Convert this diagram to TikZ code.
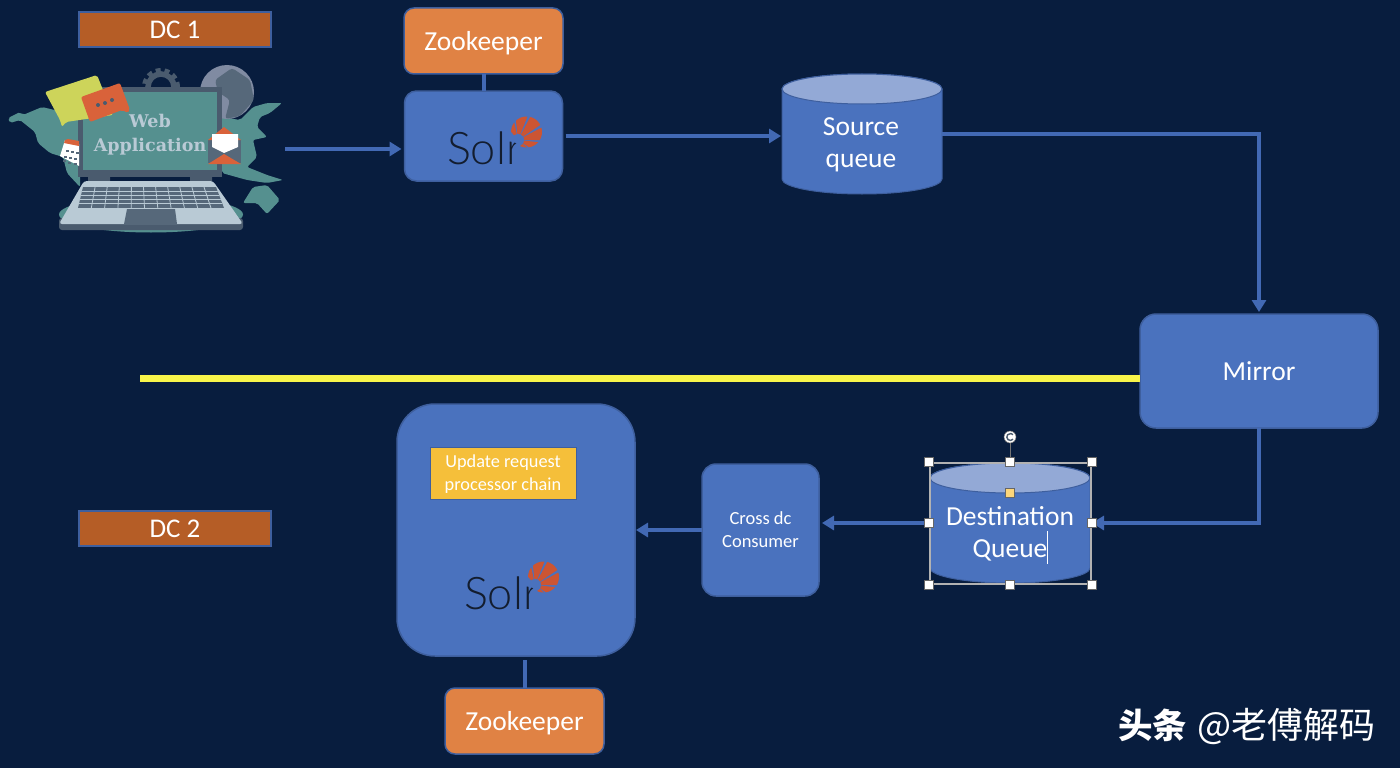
\documentclass[tikz,border=0pt]{standalone}
\usepackage{fontspec}
\setmainfont{Carlito}
\newfontfamily\cjkfont{Noto Sans CJK SC}
\newfontfamily\solrfont{Lato Light}
\newfontfamily\webfont{DejaVu Serif}
\usepackage{tikz}
\usetikzlibrary{positioning,arrows.meta}
\definecolor{pagebg}{HTML}{081D3E}
\definecolor{boxblue}{HTML}{4A72BE}
\definecolor{boxedge}{HTML}{3E5F9E}
\definecolor{capblue}{HTML}{93A9D6}
\definecolor{linkblue}{HTML}{4269B4}
\definecolor{dcbrown}{HTML}{B55D26}
\definecolor{zkorange}{HTML}{E08244}
\definecolor{chainyellow}{HTML}{F5BF3A}
\definecolor{mapteal}{HTML}{55908F}
\definecolor{slate}{HTML}{4A5B6E}
\definecolor{padgrey}{HTML}{56687A}
\definecolor{baselight}{HTML}{B9CAD5}
\definecolor{sunred}{HTML}{CC5533}
\definecolor{bubblered}{HTML}{D9623A}
\definecolor{bubbleyellow}{HTML}{CDD45A}
\definecolor{midline}{HTML}{F8F54A}
\newcommand{\fsize}[1]{\fontsize{#1pt}{\dimexpr#1pt*5/4\relax}\selectfont}
% fan of the logo, #1 is the shift from the upper logo
\newcommand{\solrsun}[1]{
\begin{scope}[shift={#1}]
\clip (526.5,132) circle[radius=15.5pt];
\foreach \fana in {-130,-96,-62,-28,6,40}
  \fill[sunred] (518,140) -- +(\fana:32) -- +({\fana+28}:32) -- cycle;
\fill[boxblue] (518,140) circle[radius=6pt];
\end{scope}
}
% barrel drawn inside the frame of node #1
\newcommand{\queueshape}[1]{
\draw[fill=boxblue, draw=boxedge, line width=1pt] ([yshift=-15pt]#1.north west) -- ([yshift=15pt]#1.south west) arc[start angle=180, end angle=360, x radius=80pt, y radius=15pt] -- ([yshift=-15pt]#1.north east) arc[start angle=0, end angle=180, x radius=80pt, y radius=15pt] -- cycle;
\draw[fill=capblue, draw=boxedge, line width=1pt] ([yshift=-15pt]#1.north) ellipse[x radius=80pt, y radius=15pt];
}
\begin{document}
\begin{tikzpicture}[x=1pt,y=-1pt,
    roundbox/.style={rectangle, rounded corners=#1, draw=boxedge, line width=1.5pt, fill=boxblue, text=white, align=center, outer sep=0pt},
    zkbox/.style={roundbox=10pt, fill=zkorange, minimum width=159pt, minimum height=66pt, font=\fsize{27.5}, text depth=0pt},
    dcbox/.style={rectangle, draw=boxedge, line width=1.5pt, fill=dcbrown, text=white, minimum width=192pt, minimum height=35pt, font=\fsize{27}, outer sep=0pt},
    queue/.style={rectangle, minimum width=160pt, minimum height=120pt, outer sep=0pt, inner sep=0pt},
    queuetext/.style={text=white, align=center, font=\fsize{27.5}, inner sep=0pt},
    solrword/.style={text=black!75!boxblue, font=\solrfont\fsize{45}, inner sep=0pt},
    link/.style={draw=linkblue, line width=4pt},
    arrow/.style={link, -{Triangle[length=12pt,width=14pt]}},
    handle/.style={rectangle, draw=black!60, fill=white, line width=.5pt, minimum size=9pt, inner sep=0pt}
]
\fill[pagebg] (0,0) rectangle (1400,768);
\useasboundingbox (0,0) rectangle (1400,768);

% web application picture
\fill[mapteal, rounded corners=2pt] (8,118) -- (20,112) -- (23,115) -- (42,107) -- (63,112) -- (80,115) -- (80,187) -- (67,173) -- (63,157) -- (50,153) -- (38,143) -- (35,132) -- (20,120) -- (10,123) -- cycle;
\fill[mapteal, rounded corners=2pt] (222,117) -- (240,120) -- (253,107) -- (267,103) -- (282,103) -- (270,113) -- (260,117) -- (257,127) -- (267,137) -- (253,140) -- (257,157) -- (247,167) -- (267,175) -- (283,180) -- (267,183) -- (247,180) -- (222,173) -- cycle;
\fill[mapteal, rounded corners=2pt] (243,203) -- (253,187) -- (267,185) -- (280,200) -- (267,214) -- (257,203) -- cycle;
\fill[mapteal] (151,214.5) ellipse[x radius=92pt, y radius=18pt];
\draw[slate, line width=4pt, dash pattern=on 5pt off 4pt] (161,87) circle[radius=17pt];
\draw[slate, line width=5.5pt] (161,87) circle[radius=13pt];
\fill[black!35!capblue!80!white] (227,92) circle[radius=27pt];
\fill[padgrey, rounded corners=3pt] (215,80) -- (232,68) -- (250,80) -- (254,100) -- (240,116) -- (225,119) -- (230,100) -- (218,92) -- cycle;
\fill[slate] (78,87) rectangle (222,177);
\fill[mapteal] (83,92) rectangle (217,170);
\fill[slate] (88,177) rectangle (110,182) (190,177) rectangle (212,182);
\fill[slate, rounded corners=3pt] (59,218) rectangle (243,230);
\fill[baselight, rounded corners=3pt] (84,181) -- (213,181) -- (243,224) -- (59,224) -- cycle;
\begin{scope}
\clip (83,187) -- (216,187) -- (224,208) -- (78,208) -- cycle;
\fill[padgrey] (70,187) rectangle (230,208);
\foreach \rowy in {191,195,199,203}
  \draw[baselight, line width=.8pt] (76,\rowy) -- (226,\rowy);
\foreach \keyi in {1,...,10}
  \draw[baselight, line width=.8pt] ({83+\keyi*12.1},187) -- ({78+\keyi*13.3},208);
\end{scope}
\fill[padgrey] (127,209) -- (175,209) -- (177,224) -- (124,224) -- cycle;
\fill[bubbleyellow, rounded corners=2pt] (45,92) -- (97,75) -- (113,115) -- (66,122) -- (62,127) -- (60,120) -- cycle;
\fill[bubblered, rounded corners=2pt] (81,97) -- (120,83) -- (130,110) -- (128,113) -- (122,110) -- (90,122) -- cycle;
\foreach \dotx/\doty in {98/105,105/103,112/100}
  \fill[slate] (\dotx,\doty) circle[radius=2pt];
\fill[white] (60,156) -- (65,140) -- (79,144) -- (79,166) -- cycle;
\fill[bubblered] (65,140) -- (68,139) -- (79,141) -- (79,146) -- (64,143) -- cycle;
\foreach \dotx/\doty in {66/150,71/151,76/152,64/156,69/157,74/158,63/160,68/162,74/163}
  \fill[padgrey] (\dotx,\doty) rectangle +(3,2);
\fill[padgrey] (208,140) rectangle (241,163);
\fill[bubblered] (208,140) -- (224,127) -- (241,140) -- cycle;
\fill[white] (212,134) -- (238,134) -- (238,147) -- (224,153) -- (212,147) -- cycle;
\fill[bubblered] (208,164) -- (224,154) -- (241,164) -- cycle;
\node[text=baselight, align=center, font=\webfont\bfseries\fsize{17.5}] (webapp) at (150,135) {Web\\[2pt]Application};
\coordinate (webout) at (285,149);

\node[dcbox] (dcone) at (175,29.5) {DC 1};
\node[dcbox] (dctwo) at (175,528.5) {DC 2};

\node[zkbox] (zktop) at (483.5,41) {Zookeeper};
\node[roundbox=12pt, minimum width=158pt, minimum height=90pt] (solrtop) [below=17pt of zktop] {};
\node[solrword] (solrtopword) at (484.5,148) {Solr};
\solrsun{(0,0)}
\node[queue] (source) at (862,134) {};
\queueshape{source}
\node[queuetext] (sourcetext) at (861,145) {Source\\[-2pt]queue};
\node[roundbox=16pt, minimum width=238pt, minimum height=114pt, font=\fsize{27.5}, text depth=0pt] (mirror) at (1259,371) {Mirror};
\node[queue] (dest) at (1010,523) {};
\queueshape{dest}
\node[queuetext] (desttext) at (1010,533.5) {Destination\\[-2pt]Queue};
\node[roundbox=14pt, minimum width=117pt, minimum height=132pt, font=\fsize{18.5}] (cross) at (760.5,530) {Cross dc\\Consumer};
\node[roundbox=38pt, minimum width=238pt, minimum height=252pt] (solrbig) at (516,530) {};
\node[rectangle, draw=boxedge, line width=1pt, fill=chainyellow, text=white, align=center, minimum width=146pt, minimum height=52pt, font=\fsize{18.3}, text depth=0pt] (chain) at (503,473) {Update request\\processor chain};
\node[solrword] (solrbigword) at (501.5,593) {Solr};
\solrsun{(17,445)}
\node[zkbox] (zkbottom) at (524.5,721) {Zookeeper};

\draw[link] (zktop.south) -- (zktop.south |- solrtop.north);
\draw[link] ([yshift=-4pt]solrbig.south -| zkbottom.north) -- (zkbottom.north);
\draw[arrow] (webout) -- ([xshift=-3pt]webout -| solrtop.west);
\draw[arrow] ([xshift=3pt]solrtop.east) -- ([xshift=-1pt]solrtop.east -| source.west);
\draw[arrow] (source.east) -| ([yshift=2pt]mirror.north);
\draw[arrow] (mirror.south) |- ([xshift=2pt]dest.east);
\draw[arrow] (dest.west) -- ([xshift=3pt]dest.west -| cross.east);
\draw[arrow] (cross.west) -- ([xshift=1pt]cross.west -| solrbig.east);
\coordinate (lineleft) at (140,378);
\draw[draw=midline, line width=7pt] (lineleft) -- (lineleft -| mirror.west);

% selection marks round the queue
\node[rectangle, draw=black!30, line width=2pt, minimum width=161pt, minimum height=121pt] (sel) at (1010,523) {};
\node[circle, draw=black!55, fill=white, line width=.5pt, minimum size=12pt, inner sep=0pt] (turn) at (1010,437) {};
\draw[black!55, line width=.7pt] (sel.north) -- (turn.south);
\draw[slate, line width=1.4pt] (1013,439.2) arc[start angle=-40, end angle=-320, radius=3.5pt];
\foreach \corner in {north west,north,north east,west,east,south west,south,south east}
  \node[handle] (hd \corner) at (sel.\corner) {};
\node[handle, fill=yellow!40!orange!50!white] (hdcap) at (1010,493) {};
\draw[white, line width=.7pt] (1047,531) -- (1047,564);

\node[text=white, anchor=west, inner sep=0pt, font=\cjkfont\fsize{34.5}] (mark) at (1118,726) {\textbf{头条}\hspace{3pt} {\fsize{36}@老傅解码}};
\end{tikzpicture}
\end{document}
